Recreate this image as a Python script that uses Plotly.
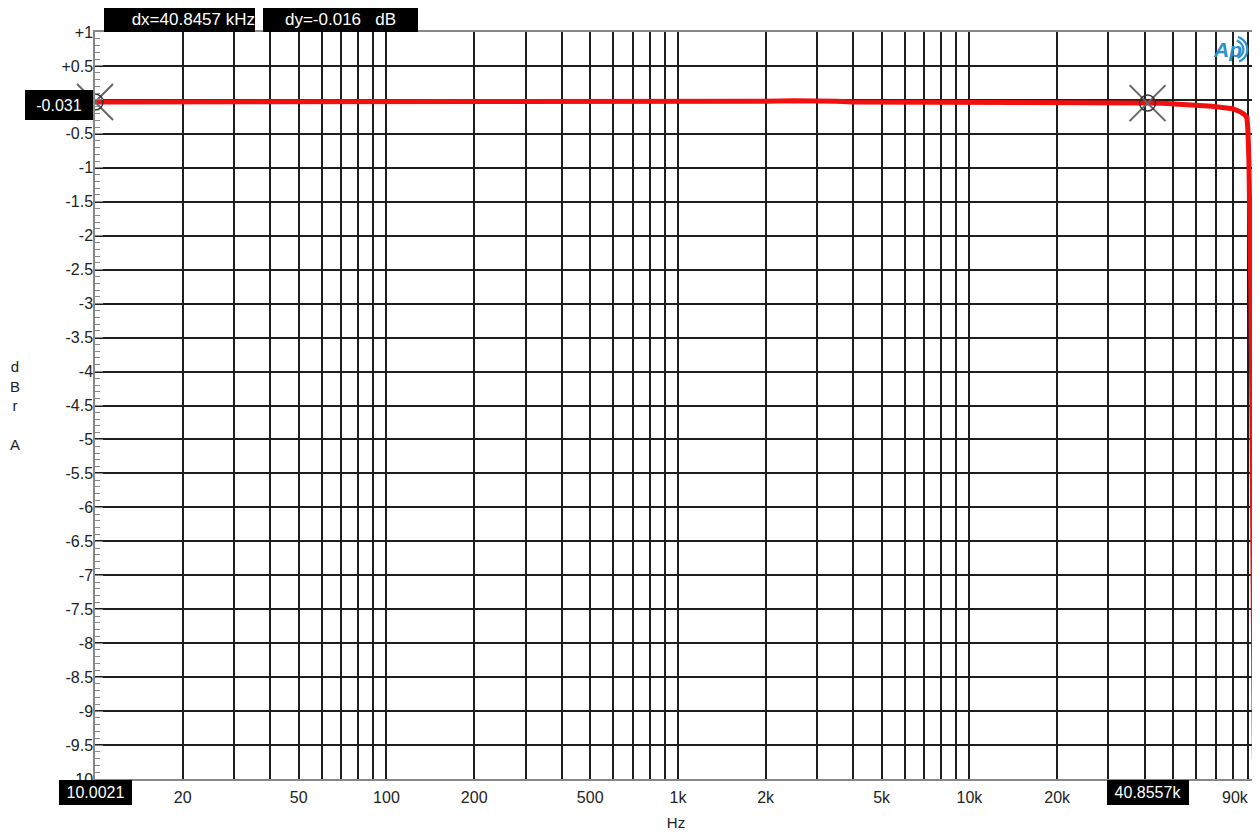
import numpy as np
import plotly.graph_objects as go

# measured response (Hz, dBrA)
freq_hz = [10, 20, 50, 100, 200, 500, 1000, 1500, 1800, 2000, 2500, 3000, 3500,
           4000, 5000, 7000, 10000, 15000, 20000, 25000, 27000, 28500, 32000,
           36000, 40855.7, 46000, 52000, 60000, 68000, 75000, 80000, 84500,
           87500, 89600, 90300, 91000, 91700, 92400, 93100, 93800, 94600, 95000]
level_dbra = [-0.031, -0.031, -0.031, -0.031, -0.031, -0.031, -0.031, -0.031,
              -0.028, -0.02, -0.012, -0.012, -0.02, -0.031, -0.031, -0.031,
              -0.031, -0.031, -0.031, -0.031, -0.032, -0.04, -0.042, -0.044,
              -0.047, -0.05, -0.06, -0.075, -0.095, -0.115, -0.13, -0.17,
              -0.21, -0.26, -0.45, -0.9, -1.5, -2.8, -4.4, -5.9, -7.4, -9.7]

# cursors
cursor_x = [10.0021, 40855.7]
cursor_y = [-0.031, -0.047]

# axis ticks
x_grid = [m * 10 ** d for d in range(1, 5) for m in range(1, 10)]
x_labels = {10: "10", 20: "20", 50: "50", 100: "100", 200: "200", 500: "500",
            1000: "1k", 2000: "2k", 5000: "5k", 10000: "10k", 20000: "20k",
            50000: "50k"}
x_text = [x_labels.get(v, "") for v in x_grid]
x_last_label = "90k"

y_ticks = [1, 0.5, 0, -0.5, -1, -1.5, -2, -2.5, -3, -3.5, -4, -4.5, -5, -5.5,
           -6, -6.5, -7, -7.5, -8, -8.5, -9, -9.5, -10]
y_text = ["+1", "+0.5", "0", "-0.5", "-1", "-1.5", "-2", "-2.5", "-3", "-3.5",
          "-4", "-4.5", "-5", "-5.5", "-6", "-6.5", "-7", "-7.5", "-8", "-8.5",
          "-9", "-9.5", "-10"]

FONT = "Liberation Sans, Arial, sans-serif"
GRID = "#1e1e1e"

fig = go.Figure()

fig.add_trace(go.Scatter(x=freq_hz, y=level_dbra, mode="lines",
                         line=dict(color="#f01010", width=5), hoverinfo="skip"))

fig.add_trace(go.Scatter(x=cursor_x, y=cursor_y, mode="markers", cliponaxis=False,
                         marker=dict(symbol="x-thin", size=36,
                                     line=dict(color="#666666", width=2))))
fig.add_trace(go.Scatter(x=cursor_x, y=cursor_y, mode="markers", cliponaxis=False,
                         marker=dict(symbol="circle-open", size=16, color="#333333",
                                     line=dict(color="#333333", width=1.5))))

# page body has an 8px margin, so the figure is 8px smaller than the window
fig.update_layout(
    width=1252, height=824,
    margin=dict(l=87, r=3, t=24, b=53, autoexpand=False),
    plot_bgcolor="white", paper_bgcolor="white",
    showlegend=False,
    font=dict(family=FONT, size=16, color="#222222"),
)

fig.update_xaxes(
    type="log", range=[1, np.log10(97000)], automargin=False,
    tickvals=x_grid, ticktext=x_text, ticks="", ticklabelstandoff=3,
    showgrid=True, gridcolor=GRID, gridwidth=1.5,
    showline=True, linecolor="#888888", linewidth=1.5, mirror=True,
    title=dict(text="Hz", font=dict(size=15), standoff=13),
    zeroline=False,
)
fig.update_yaxes(
    range=[-10, 1], automargin=False,
    tickvals=y_ticks, ticktext=y_text, ticklabelstandoff=-3,
    ticks="inside", ticklen=8, tickcolor="#888888",
    minor=dict(dtick=0.1, ticks="inside", ticklen=5, tickcolor="#888888",
               showgrid=False),
    showgrid=True, gridcolor=GRID, gridwidth=1.5,
    showline=True, linecolor="#888888", linewidth=1.5, mirror=True,
    zeroline=False,
)

box = dict(bgcolor="black", borderpad=0, borderwidth=0, showarrow=False)
wfont16 = dict(color="white", family=FONT, size=16)
wfont17 = dict(color="white", family=FONT, size=17)

# last x label pulled in from the right edge
fig.add_annotation(text=x_last_label, xref="x", x=np.log10(90000), xanchor="right",
                   xshift=3, yref="paper", y=0, yanchor="top", yshift=-8,
                   showarrow=False, font=dict(size=16, family=FONT, color="#222222"))

# cursor readouts
fig.add_annotation(text="-0.031", xref="paper", x=0, xanchor="right", xshift=-2,
                   yref="y", y=cursor_y[0], yanchor="middle", yshift=-3,
                   width=68, height=30, align="center", font=wfont16, **box)
fig.add_annotation(text="10.0021", xref="x", x=np.log10(cursor_x[0]), xanchor="center",
                   yref="paper", y=0, yanchor="top", yshift=-1,
                   width=73, height=25, align="center", font=wfont16, **box)
fig.add_annotation(text="40.8557k", xref="x", x=np.log10(cursor_x[1]), xanchor="center",
                   yref="paper", y=0, yanchor="top", yshift=-1,
                   width=82, height=25, align="center", font=wfont16, **box)
fig.add_annotation(text="dx=40.8457 kHz", xref="paper", x=0, xanchor="left", xshift=9,
                   yref="paper", y=1, yanchor="bottom",
                   width=151, height=25, align="right", font=wfont17, **box)
fig.add_annotation(text="dy=-0.016\u00a0\u00a0\u00a0dB", xref="paper", x=0, xanchor="left",
                   xshift=168, yref="paper", y=1, yanchor="bottom",
                   width=155, height=25, align="center", font=wfont17, **box)

# y axis title, stacked letters
fig.add_annotation(text="d<br>B<br>r<br><br>A", xref="paper", x=0, xanchor="center",
                   xshift=-80, yref="paper", y=0.5, yanchor="middle",
                   showarrow=False, font=dict(size=15, family=FONT, color="#222222"))

# AP logo
LOGO = "#2a8fd0"
fig.add_annotation(text="<b><i>Ap</i></b>", xref="paper", x=0.975, yref="paper",
                   y=0.9766, showarrow=False, xanchor="center", yanchor="middle",
                   font=dict(size=21, family=FONT, color=LOGO))
for r in (9, 13):
    ang = np.linspace(-1.2, 1.3, 12)
    pts = [f"{r * np.cos(a):.1f},{r * np.sin(a):.1f}" for a in ang]
    fig.add_shape(type="path", xref="paper", yref="paper",
                  xsizemode="pixel", ysizemode="pixel",
                  xanchor=0.9805, yanchor=0.9766,
                  path="M" + " L".join(pts),
                  line=dict(color=LOGO, width=2.2))

fig.write_html("out.html")
